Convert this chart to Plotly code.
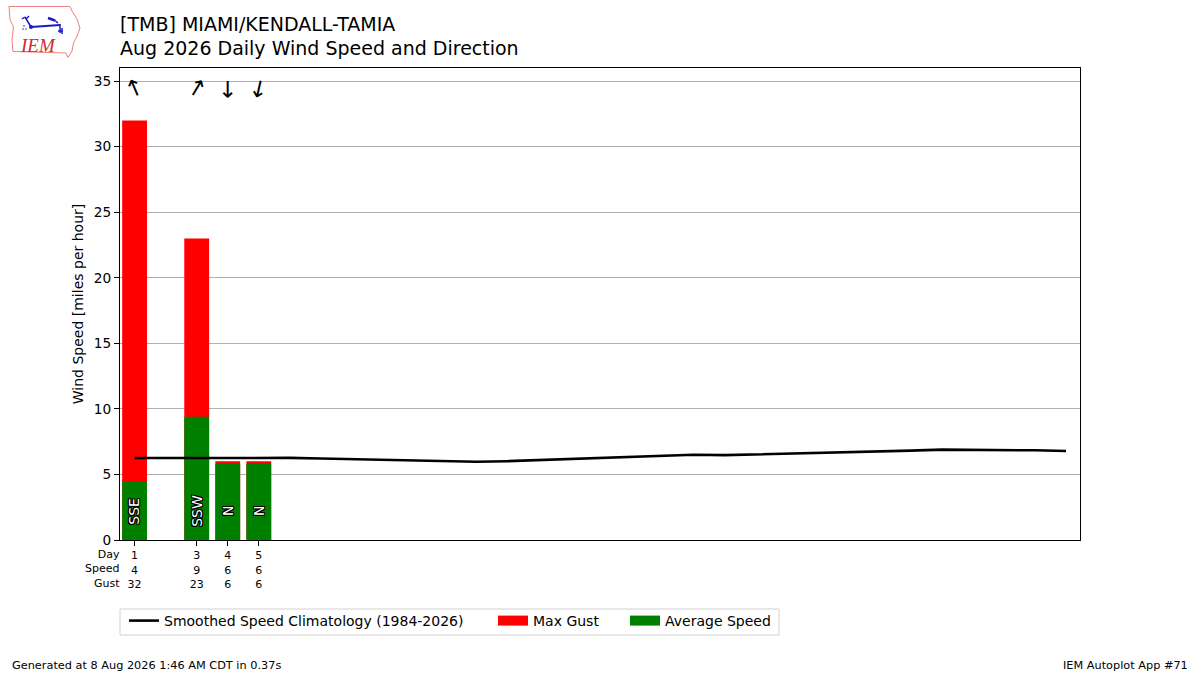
import plotly.graph_objects as go

# ---------------- data ----------------
days = [1, 3, 4, 5]
avg_speed = [4.5, 9.4, 5.8, 5.8]
max_gust = [32, 23, 6, 6]
dir_deg = [157, 211, 0, 13]
dir_text = ["SSE", "SSW", "N", "N"]

clim_days = list(range(1, 32))
clim_speed = [6.25, 6.26, 6.28, 6.29, 6.28, 6.26, 6.22, 6.18, 6.14, 6.09,
              6.03, 5.97, 6.01, 6.09, 6.19, 6.28, 6.37, 6.45, 6.50, 6.47,
              6.52, 6.58, 6.65, 6.70, 6.73, 6.82, 6.89, 6.88, 6.90, 6.84,
              6.79]

title1 = "[TMB] MIAMI/KENDALL-TAMIA"
title2 = "Aug 2026 Daily Wind Speed and Direction"
footer_left = "Generated at 8 Aug 2026 1:46 AM CDT in 0.37s"
footer_right = "IEM Autoplot App #71"

FONT = "DejaVu Sans"
L, R, T, B = 120, 120, 68, 135
W, H = 1200, 675
PW, PH = W - L - R, H - T - B
RED, GREEN = "#ff0000", "#008000"


def P(px, py):
    return (px - L) / PW, (H - B - py) / PH


fig = go.Figure()
fig.add_trace(go.Bar(x=days, y=max_gust, width=0.8, marker_color=RED,
                     marker_line_width=0, name="Max Gust", showlegend=False))
fig.add_trace(go.Bar(x=days, y=avg_speed, width=0.8, marker_color=GREEN,
                     marker_line_width=0, name="Average Speed", showlegend=False))
fig.add_trace(go.Scatter(x=clim_days, y=clim_speed, mode="lines",
                         line=dict(color="black", width=2.6),
                         name="Smoothed Speed Climatology (1984-2026)", legend="legend"))
# legend-only entries (rectangular patches like the original)
fig.add_trace(go.Scatter(x=[None], y=[None], mode="lines", line=dict(color=RED, width=10),
                         name="Max Gust", legend="legend2"))
fig.add_trace(go.Scatter(x=[None], y=[None], mode="lines", line=dict(color=GREEN, width=10),
                         name="Average Speed", legend="legend3"))

ticktext = [f"{d}<br>{s:.0f}<br>{g:.0f}" for d, s, g in zip(days, avg_speed, max_gust)]

annotations = []
outline = ("-1px -1px 0 #000, 1px -1px 0 #000, -1px 1px 0 #000, 1px 1px 0 #000, "
           "0 1px 0 #000, 0 -1px 0 #000, 1px 0 0 #000, -1px 0 0 #000")
for d, t in zip(days, dir_text):
    annotations.append(dict(x=d, y=2.2, xref="x", yref="y", text=t, showarrow=False,
                            textangle=-90, xanchor="center", yanchor="middle",
                            font=dict(family=FONT, size=14, color="white", shadow=outline)))
for d, deg in zip(days, dir_deg):
    annotations.append(dict(x=d, y=34.45, xref="x", yref="y", text="↑", showarrow=False,
                            textangle=(deg + 180) % 360, xanchor="center", yanchor="middle",
                            font=dict(family=FONT, size=23, color="black")))

x0, y0 = P(122, 546)
annotations.append(dict(x=x0, y=y0, xref="paper", yref="paper", text="Day<br>Speed<br>Gust",
                        showarrow=False, xanchor="right", yanchor="top", align="right",
                        font=dict(family=FONT, size=11, color="black")))
for txt, py in ((title1, 24), (title2, 48)):
    x0, y0 = P(118, py)
    annotations.append(dict(x=x0, y=y0, xref="paper", yref="paper", text=txt, showarrow=False,
                            xanchor="left", yanchor="middle",
                            font=dict(family=FONT, size=19, color="black")))
x0, y0 = P(10, 665)
annotations.append(dict(x=x0, y=y0, xref="paper", yref="paper", text=footer_left,
                        showarrow=False, xanchor="left", yanchor="middle",
                        font=dict(family=FONT, size=11.3, color="black")))
x0, y0 = P(1190, 665)
annotations.append(dict(x=x0, y=y0, xref="paper", yref="paper", text=footer_right,
                        showarrow=False, xanchor="right", yanchor="middle",
                        font=dict(family=FONT, size=11.3, color="black")))
x0, y0 = P(38, 45)
annotations.append(dict(x=x0, y=y0, xref="paper", yref="paper", text="<i>IEM</i>",
                        showarrow=False, xanchor="center", yanchor="middle",
                        font=dict(family="Liberation Serif", size=19, color="#d42a2a")))

# logo shapes
iowa = [(9, 6.5), (70, 6.5), (72, 11), (77, 19), (80, 28), (77, 36), (73.5, 43),
        (72, 51), (68, 57.5), (66, 53), (13, 51.5), (12, 40), (13.5, 27), (10, 20)]
path = "M " + " L ".join(f"{P(a, b)[0]:.5f},{P(a, b)[1]:.5f}" for a, b in iowa) + " Z"
shapes = [dict(type="path", path=path, xref="paper", yref="paper",
               line=dict(color="#f08080", width=1))]
blue = "#1a1acc"


def seg(a, b, c, d, w=1.5):
    p1, p2 = P(a, b), P(c, d)
    return dict(type="line", x0=p1[0], y0=p1[1], x1=p2[0], y1=p2[1], xref="paper",
                yref="paper", line=dict(color=blue, width=w))


shapes += [seg(31, 27, 60, 25, 2), seg(31, 27, 25, 17), seg(25, 17, 22, 19), seg(26, 19, 29, 16),
           seg(48, 18, 55, 20.5, 2.5), seg(55, 20.5, 58, 23), seg(60, 24, 60, 33),
           seg(58, 31, 63, 31), seg(62, 28, 62, 34)]
c1, c2 = P(29, 25), P(33, 29)
shapes.append(dict(type="circle", x0=c1[0], y0=c1[1], x1=c2[0], y1=c2[1], xref="paper",
                   yref="paper", fillcolor=blue, line=dict(color=blue, width=0)))
for a, b in ((24, 26), (26, 29), (23, 29)):
    d1, d2 = P(a - 0.8, b - 0.8), P(a + 0.8, b + 0.8)
    shapes.append(dict(type="circle", x0=d1[0], y0=d1[1], x1=d2[0], y1=d2[1], xref="paper",
                       yref="paper", fillcolor=blue, line=dict(color=blue, width=0)))

# legend frame
f1, f2 = P(120, 609), P(779, 635)
shapes.append(dict(type="rect", x0=f1[0], y0=f1[1], x1=f2[0], y1=f2[1], xref="paper",
                   yref="paper", line=dict(color="#d0d0d0", width=1), fillcolor="white",
                   layer="below"))


def leg(px):
    lx, ly = P(px, 605)
    return dict(orientation="h", x=lx, y=ly, xanchor="left", yanchor="top",
                bgcolor="rgba(0,0,0,0)", borderwidth=0,
                font=dict(family=FONT, size=14, color="black"))


fig.update_layout(
    width=W, height=H, margin=dict(l=L, r=R, t=T, b=B, autoexpand=False),
    paper_bgcolor="white", plot_bgcolor="white", barmode="overlay",
    font=dict(family=FONT, size=14, color="black"),
    showlegend=True,
    legend=leg(124), legend2=leg(493), legend3=leg(625),
    annotations=annotations, shapes=shapes,
    xaxis=dict(range=[0.53, 31.45], tickvals=days, ticktext=ticktext, showgrid=False,
               zeroline=False, showline=True, linecolor="black", linewidth=1, mirror=True,
               ticks="outside", ticklen=5, tickcolor="black",
               tickfont=dict(family=FONT, size=11)),
    yaxis=dict(range=[0, 36], tickvals=list(range(0, 36, 5)), showgrid=True,
               gridcolor="#b0b0b0", gridwidth=1, zeroline=False, showline=True,
               linecolor="black", linewidth=1, mirror=True, ticks="outside", ticklen=5,
               tickcolor="black", tickfont=dict(family=FONT, size=13.7),
               title=dict(text="Wind Speed [miles per hour]", standoff=6,
                          font=dict(family=FONT, size=14))),
)
fig.write_html("out.html", config={"displayModeBar": False},
               post_script="document.body.style.margin='0';document.body.style.overflow='hidden';")
